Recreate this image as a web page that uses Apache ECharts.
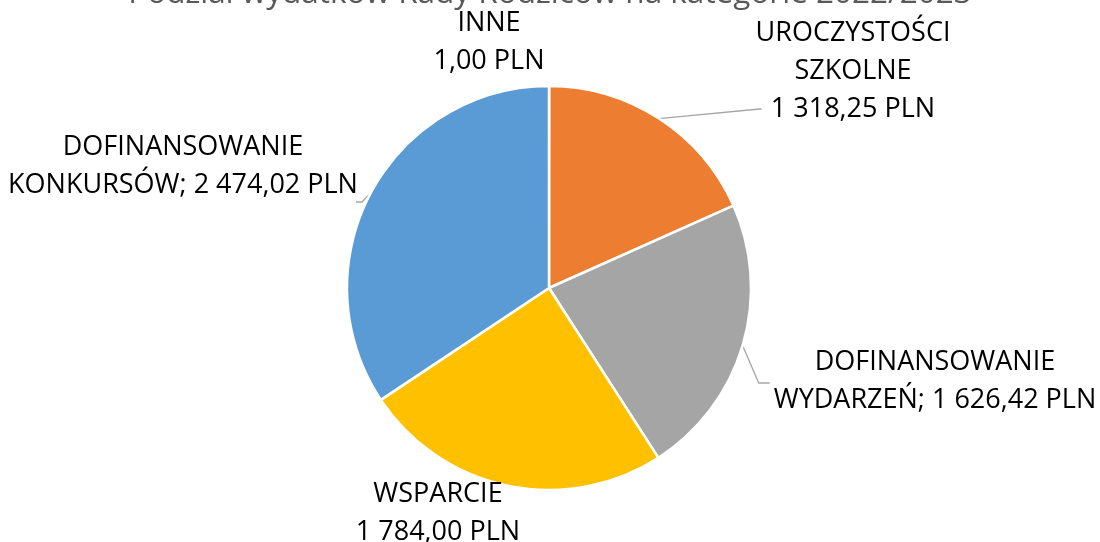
<!DOCTYPE html>
<html>
<head>
<meta charset="utf-8">
<script src="https://cdn.jsdelivr.net/npm/echarts@6/dist/echarts.min.js"></script>
<style>
html,body{margin:0;padding:0;background:#fff;}
#chart{width:1100px;height:542px;}
</style>
</head>
<body>
<div id="chart"></div>
<script>
// ---- data ----
const titleText = 'Podział wydatków Rady Rodziców na kategorie 2022/2023';
const categories = ['INNE', 'UROCZYSTOŚCI\nSZKOLNE', 'DOFINANSOWANIE\nWYDARZEŃ', 'WSPARCIE', 'DOFINANSOWANIE\nKONKURSÓW'];
const values = [1.00, 1318.25, 1626.42, 1784.00, 2474.02];
const valueSeparators = ['\n', '\n', '; ', '\n', '; '];
const currency = 'PLN';
const colors = ['#5B9BD5', '#ED7D31', '#A5A5A5', '#FFC000', '#5B9BD5'];

// ---- layout ----
const CX = 549, CY = 288, R = 202;
const labelPos = [[489, 42], [853, 71], [935, 381], [438, 513], [183, 166]];
// leader line style per label: null = no line
const leaderKind = [null, 'horizLeftBottom', 'elbowLeft', null, 'elbowRightBottom'];

function fmtPL(v) {
  const s = v.toFixed(2).split('.');
  const intPart = s[0].replace(/\B(?=(\d{3})+(?!\d))/g, ' ');
  return intPart + ',' + s[1];
}

const total = values.reduce(function (a, b) { return a + b; }, 0);
function arcPoint(i) {
  let before = 0;
  for (let k = 0; k < i; k++) before += values[k];
  const theta = (before + values[i] / 2) / total * 2 * Math.PI;
  return [CX + R * Math.sin(theta), CY - R * Math.cos(theta)];
}

const chart = echarts.init(document.getElementById('chart'));
chart.setOption({
  animation: false,
  backgroundColor: '#fff',
  title: {
    text: titleText,
    left: 'center',
    top: -27,
    textStyle: { fontFamily: 'Open Sans', fontSize: 31.5, fontWeight: 'normal', color: '#595959' }
  },
  series: [{
    type: 'pie',
    center: [CX, CY],
    radius: R,
    startAngle: 90,
    clockwise: true,
    avoidLabelOverlap: false,
    minShowLabelAngle: 0,
    itemStyle: { borderColor: '#fff', borderWidth: 2.5 },
    label: {
      show: true,
      position: 'outside',
      fontFamily: 'Open Sans',
      fontSize: 27,
      lineHeight: 38,
      color: '#000',
      align: 'center',
      formatter: function (p) {
        return categories[p.dataIndex] + valueSeparators[p.dataIndex] + fmtPL(values[p.dataIndex]) + ' ' + currency;
      }
    },
    labelLine: { show: true, length: 10, length2: 10, lineStyle: { color: '#A6A6A6', width: 1.3 } },
    labelLayout: function (params) {
      const i = params.dataIndex;
      const p = labelPos[i];
      const w = params.labelRect.width, h = params.labelRect.height;
      const left = p[0] - w / 2, right = p[0] + w / 2, top = p[1] - h / 2, bottom = p[1] + h / 2;
      const res = { x: p[0], y: p[1], align: 'center', verticalAlign: 'middle' };
      const a = arcPoint(i);
      const kind = leaderKind[i];
      if (kind === 'horizLeftBottom') {
        const y = bottom - 19;
        res.labelLinePoints = [a, [left + 4, y], [left + 6, y]];
      } else if (kind === 'elbowLeft') {
        const y = p[1] + 2;
        res.labelLinePoints = [a, [left - 15, y], [left - 4, y]];
      } else if (kind === 'elbowRightBottom') {
        const y = bottom - 2;
        res.labelLinePoints = [a, [right + 4, y], [right - 2, y]];
      }
      return res;
    },
    data: values.map(function (v, i) {
      return {
        value: v,
        name: categories[i],
        itemStyle: { color: colors[i] },
        labelLine: { show: leaderKind[i] !== null }
      };
    })
  }]
});
</script>
</body>
</html>
